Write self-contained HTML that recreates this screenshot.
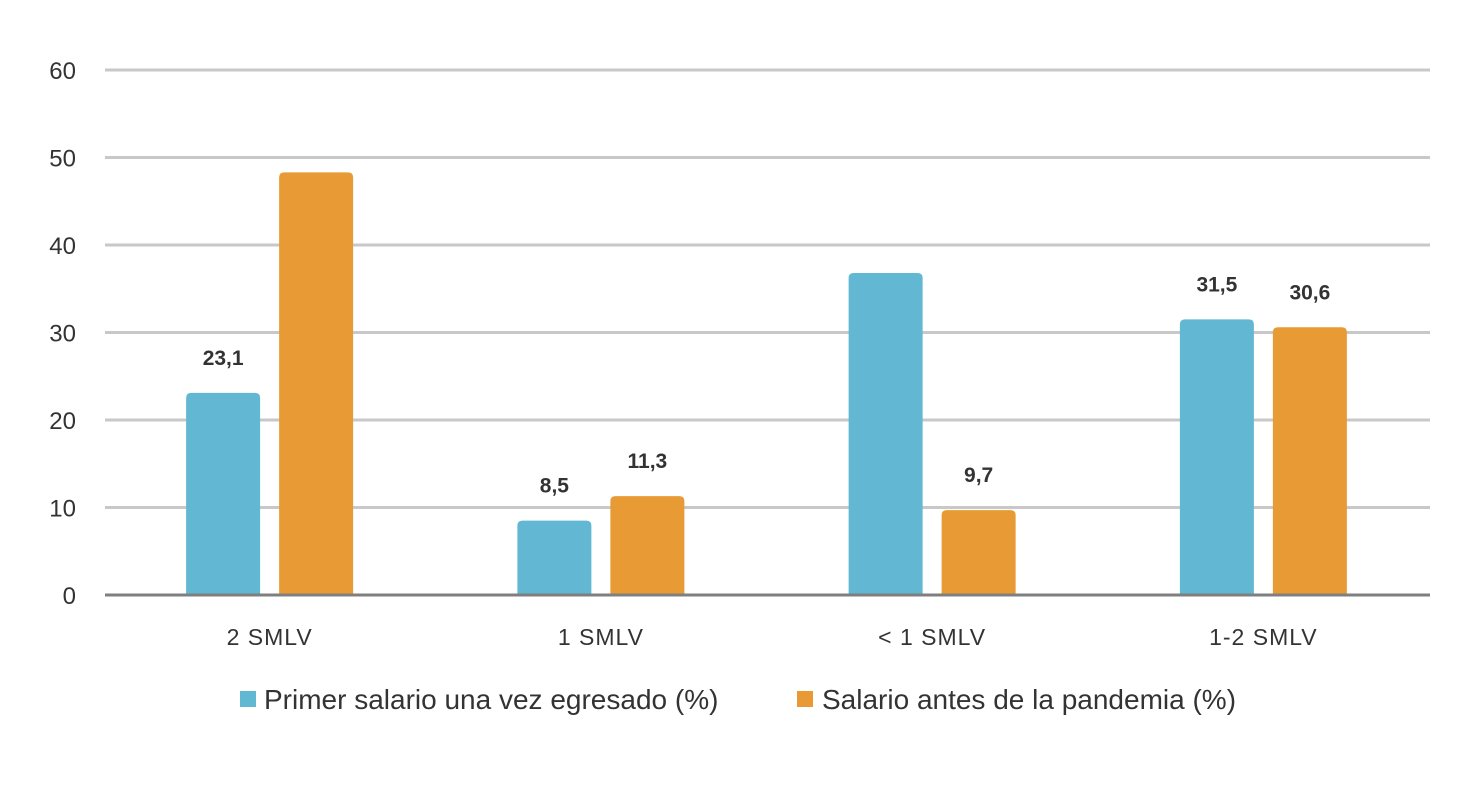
<!DOCTYPE html>
<html><head><meta charset="utf-8"><style>
body{margin:0;background:#fff;font-family:"Liberation Sans",sans-serif}
</style></head><body>
<svg id="chart" width="1470" height="799" xmlns="http://www.w3.org/2000/svg"></svg>
<script>
const categories=["2 SMLV","1 SMLV","< 1 SMLV","1-2 SMLV"];
const seriesPrimer=[23.1,8.5,36.8,31.5];
const seriesAntes=[48.3,11.3,9.7,30.6];
const labelsPrimer=["23,1","8,5",null,"31,5"];
const labelsAntes=[null,"11,3","9,7","30,6"];
const yTicks=[0,10,20,30,40,50,60];
const seriesNames=["Primer salario una vez egresado (%)","Salario antes de la pandemia (%)"];
const colors=["#62b8d2","#e89a35"];
const svg=document.getElementById('chart');
const NS="http://www.w3.org/2000/svg";
const x0=105,x1=1430,yBase=595,yTop=70;
const y=v=>yBase-(v/60)*(yBase-yTop);
const band=(x1-x0)/categories.length;
const cx=i=>x0+band*(i+0.5)-1;
function mk(t,a,txt){const e=document.createElementNS(NS,t);for(const k in a)e.setAttribute(k,a[k]);if(txt!=null)e.textContent=txt;svg.appendChild(e);return e;}
yTicks.forEach(t=>{
  if(t>0){const g=mk('line',{x1:x0,x2:x1,y1:y(t),y2:y(t),stroke:'#c8c8c8','stroke-width':3});
  
  }
  const l=mk('text',{x:76,y:y(t)+9,'text-anchor':'end','font-size':24,fill:'#333'},t);
  
  
});
const bw=74,gap=19;
function bar(xl,v,col,name){
  const top=y(v),r=5;
  const p=mk('path',{d:`M${xl},${yBase}V${top+r}Q${xl},${top} ${xl+r},${top}H${xl+bw-r}Q${xl+bw},${top} ${xl+bw},${top+r}V${yBase}Z`,fill:col});
  
  
}
categories.forEach((c,i)=>{
  const xa=cx(i)-gap/2-bw, xb=cx(i)+gap/2;
  bar(xa,seriesPrimer[i],colors[0],'bar-primer-'+i);
  bar(xb,seriesAntes[i],colors[1],'bar-antes-'+i);
  if(labelsPrimer[i]){const t=mk('text',{x:xa+bw/2,y:y(seriesPrimer[i])-28,'text-anchor':'middle','font-size':21,'font-weight':'bold',fill:'#333'},labelsPrimer[i]);
    
    }
  if(labelsAntes[i]){const t=mk('text',{x:xb+bw/2,y:y(seriesAntes[i])-28,'text-anchor':'middle','font-size':21,'font-weight':'bold',fill:'#333'},labelsAntes[i]);
    
    }
  const cl=mk('text',{x:cx(i),y:645,'text-anchor':'middle','font-size':23,fill:'#333','letter-spacing':1},c);
  
  
});
const base=mk('line',{x1:x0,x2:x1,y1:yBase,y2:yBase,stroke:'#7f7f7f','stroke-width':3});


[[240,264],[797,822]].forEach((p,k)=>{
  const s=mk('rect',{x:p[0],y:691,width:16,height:16,fill:colors[k]});
  
  
  const t=mk('text',{x:p[1],y:709,'font-size':28,fill:'#333'},seriesNames[k]);
  
  
});
</script>
</body></html>
